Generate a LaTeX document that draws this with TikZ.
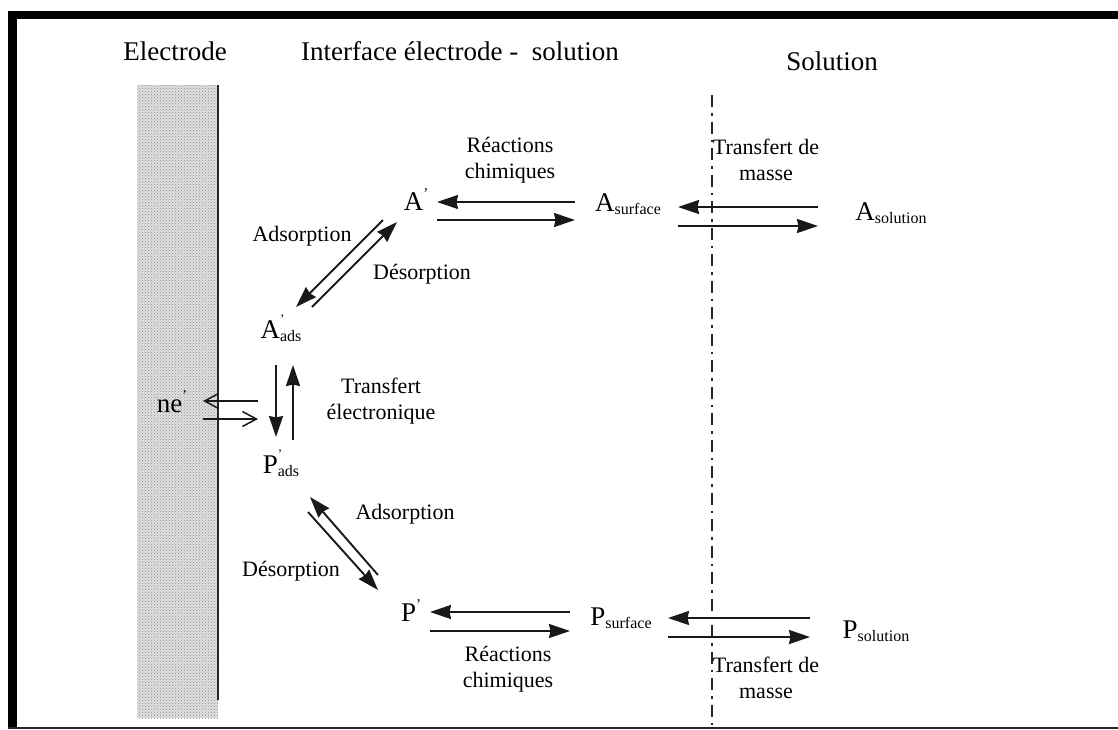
\documentclass[tikz,border=0pt]{standalone}
\usepackage{fontspec}
\setmainfont{Liberation Serif}
\usetikzlibrary{arrows.meta,patterns}
\newcommand\tick{\raisebox{12pt}{\fontsize{15}{15}\selectfont '}}
\newcommand\hitick{\raisebox{15pt}{\fontsize{13}{13}\selectfont '}}
\newcommand\sbx[1]{\raisebox{-3pt}{\fontsize{16}{16}\selectfont #1}}
\tikzset{
  big/.style={inner sep=0pt,font=\fontsize{27}{30}\selectfont},
  lab/.style={inner sep=0pt,align=center,font=\fontsize{22}{26}\selectfont},
  spec/.style={inner sep=0pt,font=\fontsize{27}{30}\selectfont},
  arr/.style={line width=1.9pt,draw=black!90,-{Stealth[length=21pt,width=14pt,inset=1.5pt]}},
  barb/.style={line width=1.5pt,draw=black!90,-{Straight Barb[length=14pt,width=15pt]}}
}
\begin{document}
\begin{tikzpicture}[x=1pt,y=-1pt]
\useasboundingbox (0,0) rectangle (1118,729);
% frame
\fill[black] (8,11) rectangle (1118,19);
\fill[black] (8,11) rectangle (17,729);
\fill[black!85] (8,727) rectangle (1118,729);
% electrode
\fill[gray!24] (137,85) rectangle (218,718);
\fill[pattern=crosshatch dots,pattern color=gray!90] (137,85) rectangle (218,718);
\draw[line width=1.6pt,black!85] (218,85) -- (218,700);
% solution boundary
\draw[line width=1.6pt,black!85,dash pattern=on 12pt off 6pt on 2.5pt off 6pt] (712,95) -- (712,729);
% titles
\node[big] (tE) at (175,51) {Electrode};
\node[big] (tI) at (460,51) {Interface électrode -\ \ solution};
\node[big] (tS) at (832,61) {Solution};
% species
\node[spec] (Ap) at (416,200) {A\tick};
\node[spec] (As) at (628,204) {A\sbx{surface}};
\node[spec] (Asol) at (891,213) {A\sbx{solution}};
\node[spec] (Aads) at (281,328) {A\rlap{\hitick}\sbx{ads}};
\node[spec] (ne) at (172,402) {ne\tick};
\node[spec] (Pads) at (281,463) {P\rlap{\hitick}\sbx{ads}};
\node[spec] (Pp) at (411,610) {P\tick};
\node[spec] (Ps) at (621,618) {P\sbx{surface}};
\node[spec] (Psol) at (876,631) {P\sbx{solution}};
% labels
\node[lab] (l1) at (510,160) {Réactions\\chimiques};
\node[lab] (l2) at (766,160) {Transfert de\\masse};
\node[lab] (l3) at (302,236) {Adsorption};
\node[lab] (l4) at (422,274) {Désorption};
\node[lab] (l5) at (381,401) {Transfert\\électronique};
\node[lab] (l6) at (405,514) {Adsorption};
\node[lab] (l7) at (291,571) {Désorption};
\node[lab] (l8) at (508,669) {Réactions\\chimiques};
\node[lab] (l9) at (766,678) {Transfert de\\masse};
% A row
\draw[arr] ([shift={(-53,-2)}]As.center) -- ([shift={(21,2)}]Ap.center);
\draw[arr] ([shift={(21,20)}]Ap.center) -- ([shift={(-53,16)}]As.center);
\draw[arr] ([shift={(-73,-6)}]Asol.center) -- ([shift={(50,3)}]As.center);
\draw[arr] ([shift={(50,22)}]As.center) -- ([shift={(-73,13)}]Asol.center);
% A' <-> A'ads
\draw[arr] ([shift={(31,-21)}]Aads.center) -- ([shift={(-19,22)}]Ap.center);
\draw[arr] ([shift={(-33,20)}]Ap.center) -- ([shift={(15,-21)}]Aads.center);
% electron transfer
\draw[arr] ([shift={(-5,37)}]Aads.center) -- ([shift={(-5,-26)}]Pads.center);
\draw[arr] ([shift={(12,-23)}]Pads.center) -- ([shift={(12,37)}]Aads.center);
\draw[barb] ([shift={(86,-1)}]ne.center) -- ([shift={(31,-1)}]ne.center);
\draw[barb] ([shift={(31,17)}]ne.center) -- ([shift={(86,17)}]ne.center);
% P'ads <-> P'
\draw[arr] ([shift={(27,49)}]Pads.center) -- ([shift={(-33,-20)}]Pp.center);
\draw[arr] ([shift={(-33,-35)}]Pp.center) -- ([shift={(29,34)}]Pads.center);
% P row
\draw[arr] ([shift={(-51,-6)}]Ps.center) -- ([shift={(19,2)}]Pp.center);
\draw[arr] ([shift={(19,21)}]Pp.center) -- ([shift={(-51,13)}]Ps.center);
\draw[arr] ([shift={(-66,-13)}]Psol.center) -- ([shift={(47,0)}]Ps.center);
\draw[arr] ([shift={(47,19)}]Ps.center) -- ([shift={(-66,6)}]Psol.center);
\end{tikzpicture}
\end{document}
